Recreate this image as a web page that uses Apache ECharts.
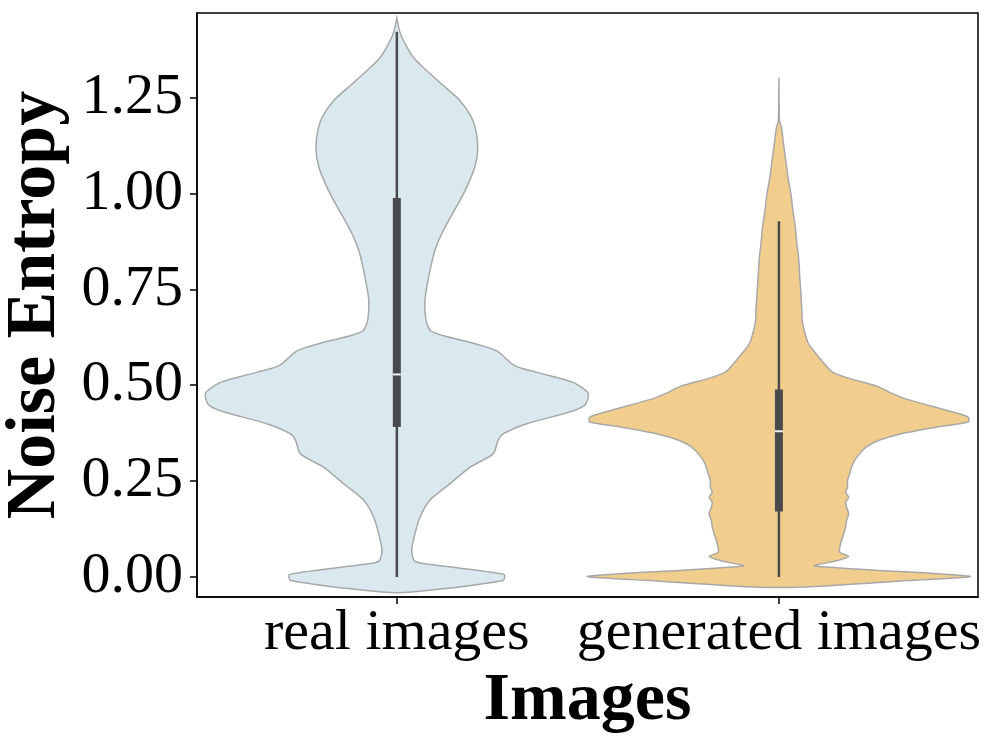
<!DOCTYPE html>
<html>
<head>
<meta charset="utf-8">
<script src="https://cdn.jsdelivr.net/npm/echarts@6/dist/echarts.min.js"></script>
<style>
  html, body { margin: 0; padding: 0; background: #fff; }
  #chart { width: 996px; height: 745px; }
</style>
</head>
<body>
<div id="chart"></div>
<script>
const categories = ['real images', 'generated images'];
const yTicks = [0, 0.25, 0.5, 0.75, 1.0, 1.25];

// violin outlines: value along y and relative density (1 = widest)
const realY = [1.457, 1.424, 1.398, 1.354, 1.320, 1.281, 1.242, 1.198, 1.155, 1.111, 1.068, 1.024,
  0.981, 0.938, 0.894, 0.851, 0.807, 0.764, 0.721, 0.668, 0.642, 0.629, 0.612, 0.590, 0.551, 0.534,
  0.508, 0.482, 0.465, 0.447, 0.430, 0.399, 0.373, 0.356, 0.321, 0.286, 0.243, 0.200, 0.156, 0.113,
  0.070, 0.043, 0.036, 0.007, -0.009, -0.039];
const realDensity = [0, 0.014, 0.035, 0.087, 0.156, 0.243, 0.330, 0.391, 0.417, 0.423, 0.408, 0.373,
  0.330, 0.281, 0.234, 0.199, 0.177, 0.160, 0.147, 0.153, 0.177, 0.243, 0.382, 0.521, 0.616, 0.729,
  0.920, 0.998, 1.0, 0.981, 0.903, 0.677, 0.556, 0.530, 0.504, 0.382, 0.278, 0.173, 0.121, 0.095,
  0.078, 0.090, 0.130, 0.561, 0.556, 0.078];

const genY = [1.302, 1.189, 1.172, 1.129, 1.085, 1.042, 0.998, 0.955, 0.911, 0.868, 0.825, 0.781,
  0.738, 0.695, 0.668, 0.634, 0.608, 0.582, 0.556, 0.534, 0.519, 0.497, 0.478, 0.463, 0.434, 0.417,
  0.404, 0.391, 0.373, 0.356, 0.339, 0.321, 0.304, 0.286, 0.269, 0.252, 0.234, 0.221, 0.208, 0.195,
  0.182, 0.165, 0.148, 0.130, 0.113, 0.087, 0.065, 0.054, 0.043, 0.029, 0.002, -0.009, -0.026];
const genDensity = [0, 0.003, 0.013, 0.024, 0.036, 0.047, 0.063, 0.073, 0.086, 0.094, 0.104, 0.109,
  0.115, 0.120, 0.122, 0.137, 0.155, 0.194, 0.238, 0.281, 0.359, 0.516, 0.594, 0.672, 0.880, 0.990,
  0.990, 0.828, 0.635, 0.521, 0.458, 0.422, 0.396, 0.380, 0.370, 0.359, 0.359, 0.349, 0.365, 0.349,
  0.354, 0.365, 0.354, 0.349, 0.339, 0.323, 0.318, 0.365, 0.307, 0.188, 1.0, 0.672, 0.135];

// [low whisker, q1, median, q3, high whisker]
const realBox = [0.0, 0.391, 0.528, 0.988, 1.421];
const genBox = [0.0, 0.171, 0.380, 0.489, 0.927];

const violinY = [realY, genY];
const violinDensity = [realDensity, genDensity];
const boxStats = [realBox, genBox];
const fills = ['#d9e9ee', '#f1ce8d'];
const halfWidth = 0.5;

const serif = 'Liberation Serif';

function renderViolin(params, api) {
  const i = params.dataIndex;
  const ys = violinY[i], ds = violinDensity[i], b = boxStats[i];
  const left = [], right = [];
  for (let k = 0; k < ys.length; k++) {
    left.push(api.coord([i - ds[k] * halfWidth, ys[k]]));
    right.push(api.coord([i + ds[k] * halfWidth, ys[k]]));
  }
  const pts = left.concat(right.reverse());
  const lo = api.coord([i, b[0]]), q1 = api.coord([i, b[1]]), med = api.coord([i, b[2]]),
        q3 = api.coord([i, b[3]]), hi = api.coord([i, b[4]]);
  const cx = lo[0];
  return {
    type: 'group',
    children: [
      { type: 'polygon', shape: { points: pts, smooth: 0.25 },
        style: { fill: fills[i], stroke: '#a8a8a8', lineWidth: 1.5 } },
      { type: 'line', shape: { x1: cx, y1: hi[1], x2: cx, y2: lo[1] },
        style: { stroke: '#4a4a4a', lineWidth: 2.5 } },
      { type: 'rect', shape: { x: cx - 4, y: q3[1], width: 8, height: q1[1] - q3[1] },
        style: { fill: '#4a4a4a' } },
      { type: 'line', shape: { x1: cx - 4, y1: med[1], x2: cx + 4, y2: med[1] },
        style: { stroke: '#f2f2f2', lineWidth: 2 } }
    ]
  };
}

const chart = echarts.init(document.getElementById('chart'));
chart.setOption({
  animation: false,
  grid: { left: 197, right: 18, top: 13, bottom: 148, show: true,
          borderColor: '#000', borderWidth: 1.5, outerBoundsMode: 'none', containLabel: false },
  xAxis: {
    type: 'value', min: -0.523, max: 1.521,
    name: 'Images', nameLocation: 'middle', nameGap: 62,
    nameTextStyle: { fontFamily: serif, fontWeight: 'bold', fontSize: 68, color: '#000' },
    axisLine: { onZero: false, lineStyle: { color: '#000', width: 1.5 } },
    axisTick: { customValues: [0, 1], length: 7, lineStyle: { color: '#000', width: 1.5 } },
    axisLabel: { customValues: [0, 1], formatter: v => categories[Math.round(v)],
                 fontFamily: serif, fontSize: 58, color: '#000', margin: 8 },
    splitLine: { show: false }
  },
  yAxis: {
    type: 'value', min: -0.052, max: 1.47,
    name: 'Noise Entropy', nameLocation: 'middle', nameGap: 116,
    nameTextStyle: { fontFamily: serif, fontWeight: 'bold', fontSize: 70, color: '#000' },
    axisLine: { show: true, onZero: false, lineStyle: { color: '#000', width: 1.5 } },
    axisTick: { show: true, customValues: yTicks, length: 7, lineStyle: { color: '#000', width: 1.5 } },
    axisLabel: { customValues: yTicks, formatter: v => v.toFixed(2),
                 fontFamily: serif, fontSize: 58, color: '#000', margin: 14 },
    splitLine: { show: false }
  },
  series: [{
    type: 'custom',
    renderItem: renderViolin,
    data: categories.map((c, i) => [i]),
    encode: { x: 0 },
    clip: true
  }]
});
</script>
</body>
</html>
